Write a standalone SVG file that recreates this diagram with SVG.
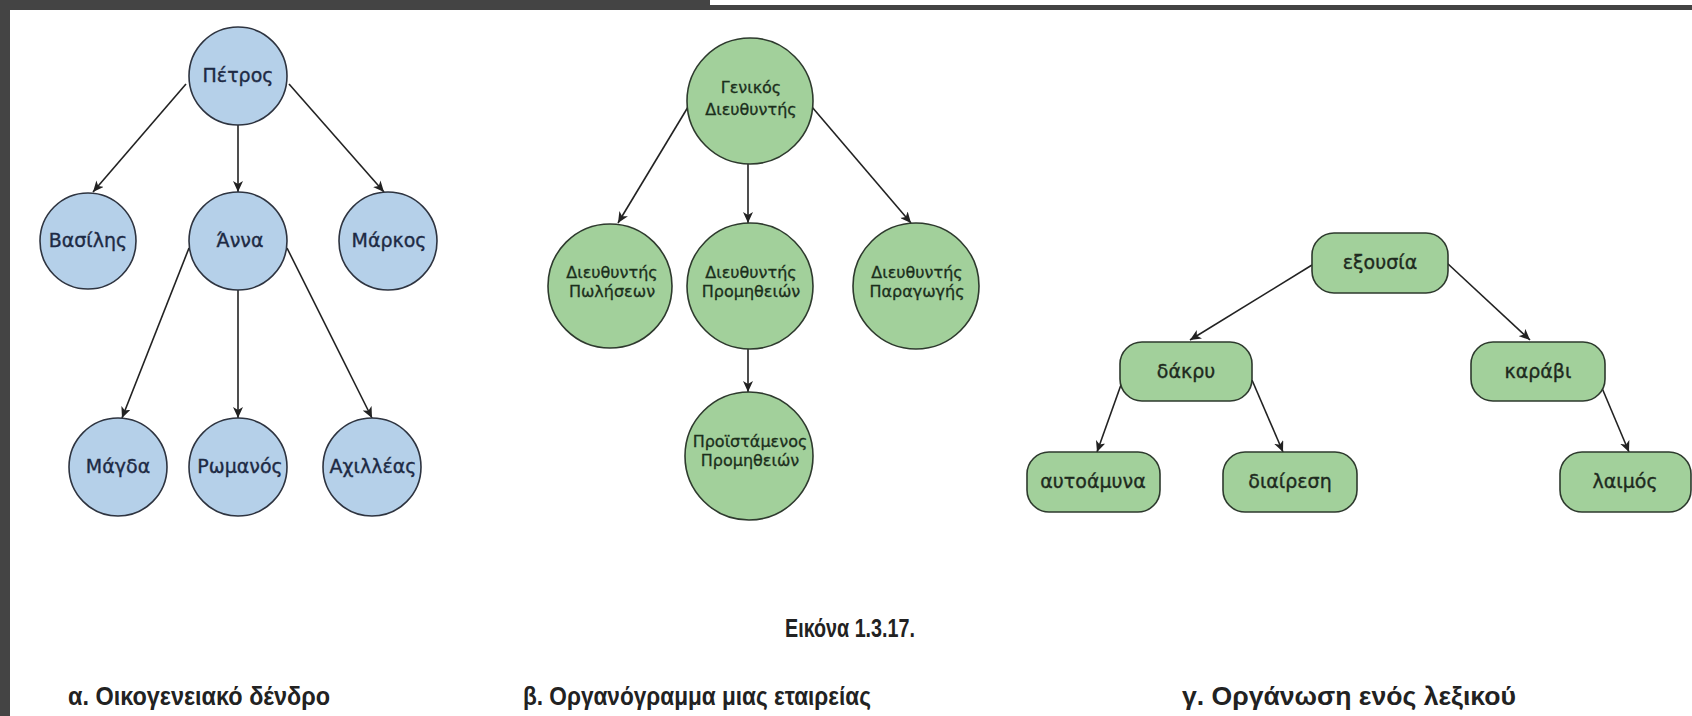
<svg xmlns="http://www.w3.org/2000/svg" width="1692" height="716" viewBox="0 0 1692 716">
<defs>
<marker id="ah" markerWidth="12" markerHeight="10" refX="11" refY="5" orient="auto" markerUnits="userSpaceOnUse">
<path d="M0,0 L11,5 L0,10 L3,5 z" fill="#222"/>
</marker>
<style>
.bl{fill:#b5d0e9;stroke:#2e3440;stroke-width:1.6}
.gr{fill:#a2d09b;stroke:#2e3a2e;stroke-width:1.6}
.e{stroke:#222;stroke-width:1.6;fill:none;marker-end:url(#ah)}
.tb{font-family:"DejaVu Sans",sans-serif;font-size:19px;fill:#1d2a44;stroke:#1d2a44;stroke-width:0.35;text-anchor:middle}
.tm{font-family:"DejaVu Sans",sans-serif;font-size:16px;fill:#1b2e1b;stroke:#1b2e1b;stroke-width:0.3;text-anchor:middle}
.tr{font-family:"DejaVu Sans",sans-serif;font-size:19px;fill:#1e2a1e;stroke:#1e2a1e;stroke-width:0.35;text-anchor:middle}
.cap{font-family:"Liberation Sans",Arial,sans-serif;font-weight:bold;font-size:25px;fill:#222;text-anchor:middle}
</style>
</defs>
<rect x="0" y="0" width="1692" height="716" fill="#ffffff"/>
<rect x="0" y="0" width="10" height="716" fill="#444444"/>
<rect x="0" y="0" width="710" height="10" fill="#444444"/>
<rect x="710" y="5" width="982" height="5" fill="#444444"/>

<g id="connectors">
<line class="e" x1="186" y1="84" x2="93" y2="192"/>
<line class="e" x1="238" y1="125" x2="238" y2="192"/>
<line class="e" x1="289" y1="84" x2="384" y2="192"/>
<line class="e" x1="189" y1="248" x2="122" y2="418"/>
<line class="e" x1="238" y1="290" x2="238" y2="418"/>
<line class="e" x1="287" y1="248" x2="372" y2="418"/>

<line class="e" x1="688" y1="107" x2="618" y2="223"/>
<line class="e" x1="748" y1="164" x2="748" y2="223"/>
<line class="e" x1="812" y1="107" x2="911" y2="223"/>
<line class="e" x1="748" y1="349" x2="748" y2="392"/>

<line class="e" x1="1312" y1="265" x2="1190" y2="340"/>
<line class="e" x1="1447" y1="263" x2="1530" y2="340"/>
<line class="e" x1="1122" y1="382" x2="1097" y2="452"/>
<line class="e" x1="1252" y1="380" x2="1283" y2="452"/>
<line class="e" x1="1602" y1="388" x2="1629" y2="452"/>
</g>

<g id="n-petros"><circle class="bl" cx="238" cy="76" r="49"/><text class="tb" x="238" y="82">Πέτρος</text></g>
<g id="n-vasilis"><circle class="bl" cx="88" cy="241" r="48"/><text class="tb" x="88" y="247">Βασίλης</text></g>
<g id="n-anna"><circle class="bl" cx="238" cy="241" r="49"/><text class="tb" x="240" y="247">Άννα</text></g>
<g id="n-markos"><circle class="bl" cx="388" cy="241" r="49"/><text class="tb" x="389" y="247">Μάρκος</text></g>
<g id="n-magda"><circle class="bl" cx="118" cy="467" r="49"/><text class="tb" x="118" y="473">Μάγδα</text></g>
<g id="n-romanos"><circle class="bl" cx="238" cy="467" r="49"/><text class="tb" x="240" y="473">Ρωμανός</text></g>
<g id="n-achilleas"><circle class="bl" cx="372" cy="467" r="49"/><text class="tb" x="373" y="473">Αχιλλέας</text></g>

<g id="n-genikos"><circle class="gr" cx="750" cy="101" r="63"/><text class="tm" x="751" y="93">Γενικός</text><text class="tm" x="751" y="115">Διευθυντής</text></g>
<g id="n-poliseon"><circle class="gr" cx="610" cy="286" r="62"/><text class="tm" x="612" y="278">Διευθυντής</text><text class="tm" x="612" y="297">Πωλήσεων</text></g>
<g id="n-promitheion"><circle class="gr" cx="750" cy="286" r="63"/><text class="tm" x="751" y="278">Διευθυντής</text><text class="tm" x="751" y="297">Προμηθειών</text></g>
<g id="n-paragogis"><circle class="gr" cx="916" cy="286" r="63"/><text class="tm" x="917" y="278">Διευθυντής</text><text class="tm" x="917" y="297">Παραγωγής</text></g>
<g id="n-proistamenos"><circle class="gr" cx="749" cy="456" r="64"/><text class="tm" x="750" y="447">Προϊστάμενος</text><text class="tm" x="750" y="466">Προμηθειών</text></g>

<g id="n-exousia"><rect class="gr" x="1312" y="233" width="136" height="60" rx="22"/><text class="tr" x="1380" y="269">εξουσία</text></g>
<g id="n-dakry"><rect class="gr" x="1120" y="342" width="132" height="59" rx="22"/><text class="tr" x="1186" y="378">δάκρυ</text></g>
<g id="n-karavi"><rect class="gr" x="1471" y="342" width="134" height="59" rx="22"/><text class="tr" x="1538" y="378">καράβι</text></g>
<g id="n-aftoamyna"><rect class="gr" x="1027" y="452" width="133" height="60" rx="22"/><text class="tr" x="1093" y="488">αυτοάμυνα</text></g>
<g id="n-diairesi"><rect class="gr" x="1223" y="452" width="134" height="60" rx="22"/><text class="tr" x="1290" y="488">διαίρεση</text></g>
<g id="n-laimos"><rect class="gr" x="1560" y="452" width="131" height="60" rx="22"/><text class="tr" x="1625" y="488">λαιμός</text></g>

<g id="captions">
<text class="cap" x="850" y="637" textLength="130" lengthAdjust="spacingAndGlyphs">Εικόνα 1.3.17.</text>
<text class="cap" x="199" y="705" textLength="262" lengthAdjust="spacingAndGlyphs">α. Οικογενειακό δένδρο</text>
<text class="cap" x="697" y="705" textLength="348" lengthAdjust="spacingAndGlyphs">β. Οργανόγραμμα μιας εταιρείας</text>
<text class="cap" x="1349" y="705" textLength="334" lengthAdjust="spacingAndGlyphs">γ. Οργάνωση ενός λεξικού</text>
</g>
</svg>
